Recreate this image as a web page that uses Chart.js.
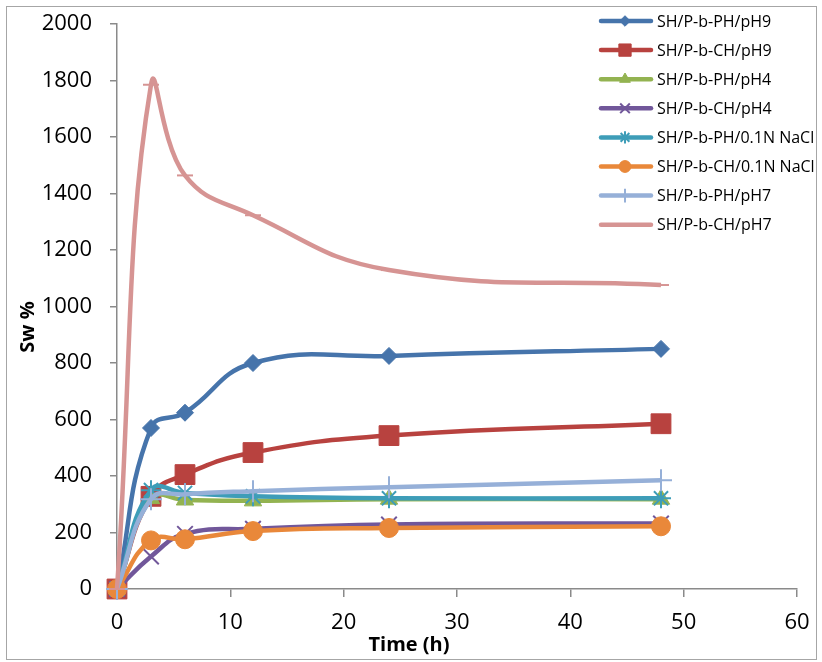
<!DOCTYPE html>
<html>
<head>
<meta charset="utf-8">
<script src="https://cdn.jsdelivr.net/npm/chart.js@4.4.0/dist/chart.umd.min.js"></script>
<style>
  html, body { margin: 0; padding: 0; background: #fff; }
  #wrap { width: 822px; height: 662px; position: relative; }
</style>
</head>
<body>
<div id="wrap"><canvas id="c" width="822" height="662"></canvas></div>
<script>
// ---- data ----
const hours = [0, 3, 6, 12, 24, 48];
const seriesNames = [
  'SH/P-b-PH/pH9', 'SH/P-b-CH/pH9', 'SH/P-b-PH/pH4', 'SH/P-b-CH/pH4',
  'SH/P-b-PH/0.1N NaCl', 'SH/P-b-CH/0.1N NaCl', 'SH/P-b-PH/pH7', 'SH/P-b-CH/pH7'
];
const phPH9   = [0, 570, 624, 800, 825, 850];
const chPH9   = [0, 328, 405, 483, 543, 585];
const phPH4   = [0, 320, 315, 312, 318, 318];
const chPH4   = [0, 115, 195, 213, 228, 232];
const phNaCl  = [0, 350, 340, 328, 321, 321];
const chNaCl  = [0, 172, 176, 205, 216, 222];
const phPH7   = [0, 318, 335, 346, 360, 385];
const chPH7   = [0, 1785, 1464, 1323, 1129, 1076];
const xTicks = [0, 10, 20, 30, 40, 50, 60];
const yTicks = [0, 200, 400, 600, 800, 1000, 1200, 1400, 1600, 1800, 2000];

const values = [phPH9, chPH9, phPH4, chPH4, phNaCl, chNaCl, phPH7, chPH7];
const colors = ['#4674AB', '#B8423F', '#93B351', '#71579A', '#3E9DB8', '#E9883A', '#96B0D8', '#D69493'];
const styles = ['rectRot', 'rect', 'triangle', 'crossRot', 'star', 'circle', 'cross', 'line'];
const radii  = [8.5, 14, 10, 11, 10, 9.5, 11, 8];
const bws    = [1, 1, 1, 2, 2, 1, 2, 2];

const datasets = values.map((v, i) => ({
  label: seriesNames[i],
  data: hours.map((h, k) => ({ x: h, y: v[k] })),
  borderColor: colors[i],
  backgroundColor: colors[i],
  borderWidth: 4.5,
  tension: 0.45,
  clip: false,
  pointStyle: styles[i],
  pointRadius: radii[i],
  pointBorderWidth: bws[i],
  pointBackgroundColor: colors[i],
  pointBorderColor: colors[i],
  order: values.length - i
}));

const FONT = "'Open Sans', 'Liberation Sans', sans-serif";

const deco = {
  id: 'deco',
  beforeDraw(chart) {
    const c = chart.ctx;
    c.save();
    c.fillStyle = '#ffffff';
    c.fillRect(0, 0, chart.width, chart.height);
    c.strokeStyle = '#a6a6a6';
    c.lineWidth = 1;
    c.strokeRect(6.5, 6.5, 810, 653);
    c.restore();
  },
  afterDraw(chart) {
    const c = chart.ctx;
    c.save();
    // axis titles
    c.fillStyle = '#000';
    c.font = "bold 20px " + FONT;
    c.textAlign = 'center';
    c.textBaseline = 'alphabetic';
    c.fillText('Time (h)', 409, 651);
    c.translate(34, 327);
    c.rotate(-Math.PI / 2);
    c.fillText('Sw %', 0, 0);
    c.restore();

    // legend
    c.save();
    c.font = "16px " + FONT;
    c.textAlign = 'left';
    c.textBaseline = 'middle';
    chart.data.datasets.forEach((ds, i) => {
      const y = 21 + i * 29.1;
      c.strokeStyle = ds.borderColor;
      c.lineWidth = 4.5;
      c.lineCap = 'round';
      c.beginPath();
      c.moveTo(601, y);
      c.lineTo(651, y);
      c.stroke();
      c.lineCap = 'butt';
      c.fillStyle = ds.backgroundColor;
      c.lineWidth = ds.pointBorderWidth;
      Chart.helpers.drawPoint(c, {
        pointStyle: ds.pointStyle,
        radius: ds.pointRadius * 0.62,
        rotation: 0,
        borderWidth: ds.pointBorderWidth
      }, 625, y);
      c.fillStyle = '#000';
      c.fillText(ds.label, 657, y + 1);
    });
    c.restore();
  }
};

new Chart(document.getElementById('c'), {
  type: 'line',
  data: { datasets },
  plugins: [deco],
  options: {
    responsive: false,
    animation: false,
    devicePixelRatio: 1,
    layout: { padding: { left: 7, right: 25, top: 24, bottom: 0 } },
    plugins: { legend: { display: false }, tooltip: { enabled: false } },
    scales: {
      x: {
        type: 'linear',
        min: 0, max: 60,
        afterBuildTicks(s) { s.ticks = xTicks.map(v => ({ value: v })); },
        afterFit(s) { s.height = 73; s.paddingLeft = 0; s.paddingRight = 0; },
        grid: { drawOnChartArea: false, drawTicks: true, tickLength: 8, color: '#8a8a8a', lineWidth: 1.5 },
        border: { display: true, color: '#8a8a8a', width: 1.5 },
        ticks: { color: '#000', font: { family: FONT, size: 22 }, padding: 13, maxRotation: 0,
                 callback: v => String(v) }
      },
      y: {
        min: 0, max: 2000,
        afterBuildTicks(s) { s.ticks = yTicks.map(v => ({ value: v })); },
        afterFit(s) { s.width = 110; s.paddingTop = 0; s.paddingBottom = 0; },
        grid: { drawOnChartArea: false, drawTicks: true, tickLength: 7, color: '#8a8a8a', lineWidth: 1.5 },
        border: { display: true, color: '#8a8a8a', width: 1.5 },
        ticks: { color: '#000', font: { family: FONT, size: 22 }, padding: 18,
                 callback: v => String(v) }
      }
    }
  }
});
</script>
</body>
</html>
